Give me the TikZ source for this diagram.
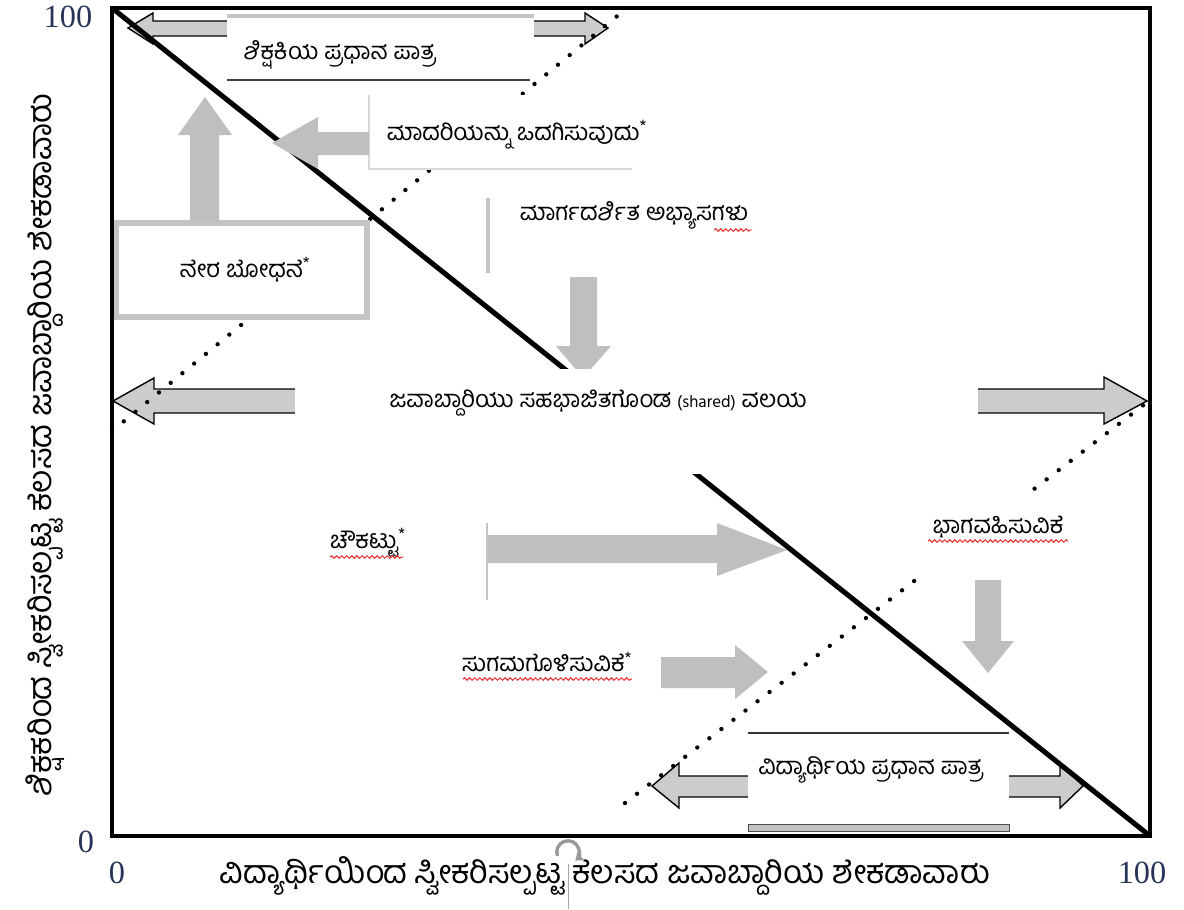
\documentclass[tikz,border=0pt]{standalone}
\usepackage{fontspec}
\setmainfont[Script=Kannada]{Hind Mysuru}
\newfontfamily\numfont{Liberation Serif}
\usetikzlibrary{positioning, arrows.meta, decorations.pathmorphing}

\definecolor{arrowgrey}{RGB}{204,204,204}
\definecolor{fullgrey}{RGB}{191,191,191}
\definecolor{boxgrey}{RGB}{196,196,196}
\definecolor{axisblue}{RGB}{38,52,88}
\definecolor{spellred}{RGB}{232,40,40}

\tikzstyle{label} = [font=\fontsize{17}{20}\selectfont, inner sep=0pt]
\tikzstyle{axisnum} = [font=\numfont\fontsize{23}{26}\selectfont, text=axisblue, inner sep=0pt]
\tikzstyle{axistitle} = [font=\fontsize{23}{27}\selectfont, inner sep=0pt]
\tikzstyle{hollow} = [fill=arrowgrey, draw=black, line width=1pt, line join=miter]
\tikzstyle{fullarrow} = [fill=fullgrey]
\tikzstyle{dots} = [line width=3.1pt, line cap=round, dash pattern=on 0pt off 10.8pt]
\tikzstyle{spell} = [draw=spellred, line width=0.7pt, decorate,
  decoration={snake, segment length=3.6pt, amplitude=0.9pt}]

\begin{document}
\begin{tikzpicture}[x=0.025cm, y=-0.025cm]
  \useasboundingbox (0,0) rectangle (1184,909);

  % double arrows of the two main roles
  \draw[hollow] (128,28) -- (153,13) -- (153,21) -- (585,21) -- (585,13) -- (608,28)
    -- (585,44) -- (585,36) -- (153,36) -- (153,44) -- cycle;
  \draw[hollow] (652,786) -- (679,763) -- (679,776) -- (1060,776) -- (1060,763) -- (1083,786)
    -- (1060,808) -- (1060,797) -- (679,797) -- (679,808) -- cycle;
  \draw[hollow] (300,389) -- (154,389) -- (154,378) -- (113,401) -- (154,424) -- (154,413) -- (300,413);
  \draw[hollow] (970,389) -- (1104,389) -- (1104,377) -- (1147,401) -- (1104,424) -- (1104,413) -- (970,413);

  % dotted lines
  \draw[dots] (112,431) -- (627,8);
  \draw[dots] (625,803) -- (1150,400);

  % text boxes
  \fill[white] (227,14) rectangle (534,80);
  \draw[boxgrey, line width=3pt] (227,16) -- (534,16);
  \draw[black!75, line width=0.8pt] (227,80) -- (530,80);
  \fill[white] (369,95) rectangle (632,169);
  \draw[black!15, line width=0.8pt] (369,95) -- (369,169) -- (632,169);
  \draw[boxgrey, line width=4.5pt, fill=white] (116,223) rectangle (367,317);
  \fill[white] (900,492) rectangle (1085,574);
  \fill[white] (748,733) rectangle (1009,830);
  \draw[black!80, line width=0.8pt] (748,733) -- (1009,733);
  \filldraw[fill=boxgrey, draw=black!70, line width=0.6pt] (748,824) rectangle (1009,831);

  % grey arrows under the diagonal
  \fill[fullarrow] (190,222) -- (190,135) -- (178,135) -- (205,97) -- (232,135) -- (219,135) -- (219,222) -- cycle;
  \fill[fullarrow] (570,277) -- (597,277) -- (597,346) -- (611,346) -- (583,378) -- (556,346) -- (570,346) -- cycle;
  \fill[fullarrow] (487,535) -- (717,535) -- (717,523) -- (787,550) -- (717,576) -- (717,563) -- (487,563) -- cycle;
  \fill[fullarrow] (661,657) -- (735,657) -- (735,645) -- (768,672) -- (735,699) -- (735,688) -- (661,688) -- cycle;
  \fill[fullarrow] (975,580) -- (1001,580) -- (1001,641) -- (1014,641) -- (988,673) -- (962,641) -- (975,641) -- cycle;
  \draw[boxgrey, line width=2.2pt] (488,198) -- (488,273);
  \draw[boxgrey, line width=1.6pt] (487,523) -- (487,600);

  % diagonal
  \draw[line width=3.6pt] (112,8) -- (1150,836);
  \fill[fullarrow] (369,132) -- (318,132) -- (318,117) -- (272,143) -- (318,169) -- (318,155) -- (369,155) -- cycle;

  % shared zone
  \fill[white] (295,369) rectangle (978,474);

  % frame
  \draw[line width=3pt] (112,8) rectangle (1150,836);

  % labels
  \node[label] (teacher) at (340,55) {ಶಿಕ್ಷಕಿಯ ಪ್ರಧಾನ ಪಾತ್ರ};
  \node[label] (model) at (517,135) {ಮಾದರಿಯನ್ನು ಒದಗಿಸುವುದು\textsuperscript{*}};
  \node[label] (direct) at (245,270) {ನೇರ ಬೋಧನೆ\textsuperscript{*}};
  \node[label] (guided) at (634,215) {ಮಾರ್ಗದರ್ಶಿತ ಅಭ್ಯಾಸಗಳು};
  \node[label] (shared) at (598,403) {ಜವಾಬ್ದಾರಿಯು ಸಹಭಾಜಿತಗೊಂಡ {\fontsize{12}{14}\selectfont(shared)} ವಲಯ};
  \node[label] (scaffold) at (368,543) {ಚೌಕಟ್ಟು\textsuperscript{*}};
  \node[label] (facilitate) at (547,662) {ಸುಗಮಗೊಳಿಸುವಿಕೆ\textsuperscript{*}};
  \node[label] (participate) at (998,527) {ಭಾಗವಹಿಸುವಿಕೆ};
  \node[label] (student) at (871,770) {ವಿದ್ಯಾರ್ಥಿಯ ಪ್ರಧಾನ ಪಾತ್ರ};

  % spelling marks
  \draw[spell] (714,230) -- (752,230);
  \draw[spell] (330,557) -- (403,557);
  \draw[spell] (463,679) -- (632,679);
  \draw[spell] (928,541) -- (1068,541);

  % axes
  \node[axisnum] (y100) at (68,17) {100};
  \node[axisnum] (y0) at (86,842) {0};
  \node[axisnum] (x0) at (117,873) {0};
  \node[axisnum] (x100) at (1142,873) {100};
  \node[axistitle] (xtitle) at (605,876) {ವಿದ್ಯಾರ್ಥಿಯಿಂದ ಸ್ವೀಕರಿಸಲ್ಪಟ್ಟ ಕೆಲಸದ ಜವಾಬ್ದಾರಿಯ ಶೇಕಡಾವಾರು};
  \node[axistitle, rotate=90] (ytitle) at (45,445) {ಶಿಕ್ಷಕರಿಂದ ಸ್ವೀಕರಿಸಲ್ಪಟ್ಟ ಕೆಲಸದ ಜವಾಬ್ದಾರಿಯ ಶೇಕಡಾವಾರು};

  % rotate handle
  \coordinate (handle) at (568,852);
  \draw[black!35, line width=0.6pt] (568,864) -- (568,909);
  \draw[black!40, line width=2.4pt, -{Triangle[length=5pt,width=7pt]}]
    ([shift={(200:8pt)}]handle) arc[start angle=200, end angle=-50, radius=8pt];
\end{tikzpicture}
\end{document}
